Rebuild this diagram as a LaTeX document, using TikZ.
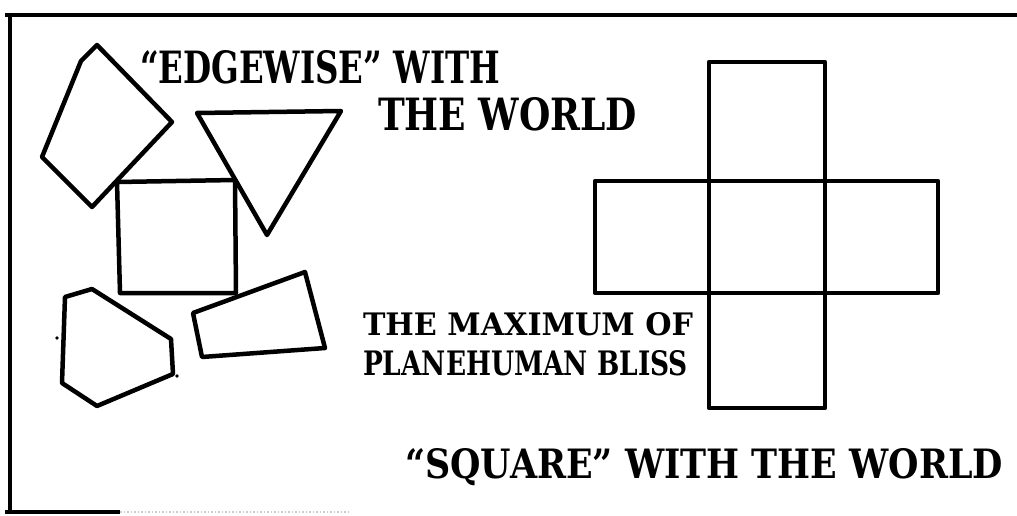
\documentclass[tikz,border=0pt]{standalone}
\usepackage{fontspec}
\usepackage{graphicx}
\setmainfont{DejaVu Serif}
\tikzset{
  shape line/.style={draw=black, line width=4.5pt, line join=round, line cap=round},
  frame line/.style={draw=black, line width=3.5pt, line cap=butt},
  label text/.style={anchor=base west, inner sep=0pt, outer sep=0pt, font=\bfseries},
}
\newcommand{\fit}[3]{\resizebox{#1pt}{#2pt}{#3}}
\begin{document}
\begin{tikzpicture}[x=1pt,y=-1pt]
\useasboundingbox (0,0) rectangle (1017,516);
% frame
\draw[frame line] (5,15) -- (1017,15);
\draw[frame line] (10,13) -- (10,513);
\draw[frame line] (5,512) -- (120,512);
\draw[gray!40, line width=1.5pt, dotted] (120,512) -- (350,512);
% left scattered shapes
\draw[shape line] (97,45) -- (81,61) -- (42,157) -- (92,207) -- (172,122) -- cycle;
\draw[shape line] (197,113) -- (341,111) -- (267,235) -- cycle;
\draw[shape line] (117,182) -- (235,180) -- (236,293) -- (120,293) -- cycle;
\draw[shape line] (65,297) -- (92,289) -- (171,339) -- (173,374) -- (97,406) -- (62,383) -- cycle;
\draw[shape line] (193,313) -- (305,272) -- (325,348) -- (202,357) -- cycle;
\fill (57,338) circle (1.8);
\fill (177,376) circle (1.8);
% cross of squares
\draw[shape line] (709,62) rectangle (825,181);
\draw[shape line] (595,181) rectangle (938,293);
\draw[shape line] (709,181) -- (709,293);
\draw[shape line] (825,181) -- (825,293);
\draw[shape line] (709,293) rectangle (825,408);
% texts
\node[label text] (t1) at (140,84) {\fit{360}{33}{“EDGEWISE” WITH}};
\node[label text] (t2) at (378,130) {\fit{259}{33}{THE WORLD}};
\node[label text] (t3) at (363,335) {\fit{330}{23}{THE MAXIMUM OF}};
\node[label text] (t4) at (363,375) {\fit{325}{25}{PLANEHUMAN BLISS}};
\node[label text] (t5) at (405,478) {\fit{598}{30}{“SQUARE” WITH THE WORLD}};
\end{tikzpicture}
\end{document}
